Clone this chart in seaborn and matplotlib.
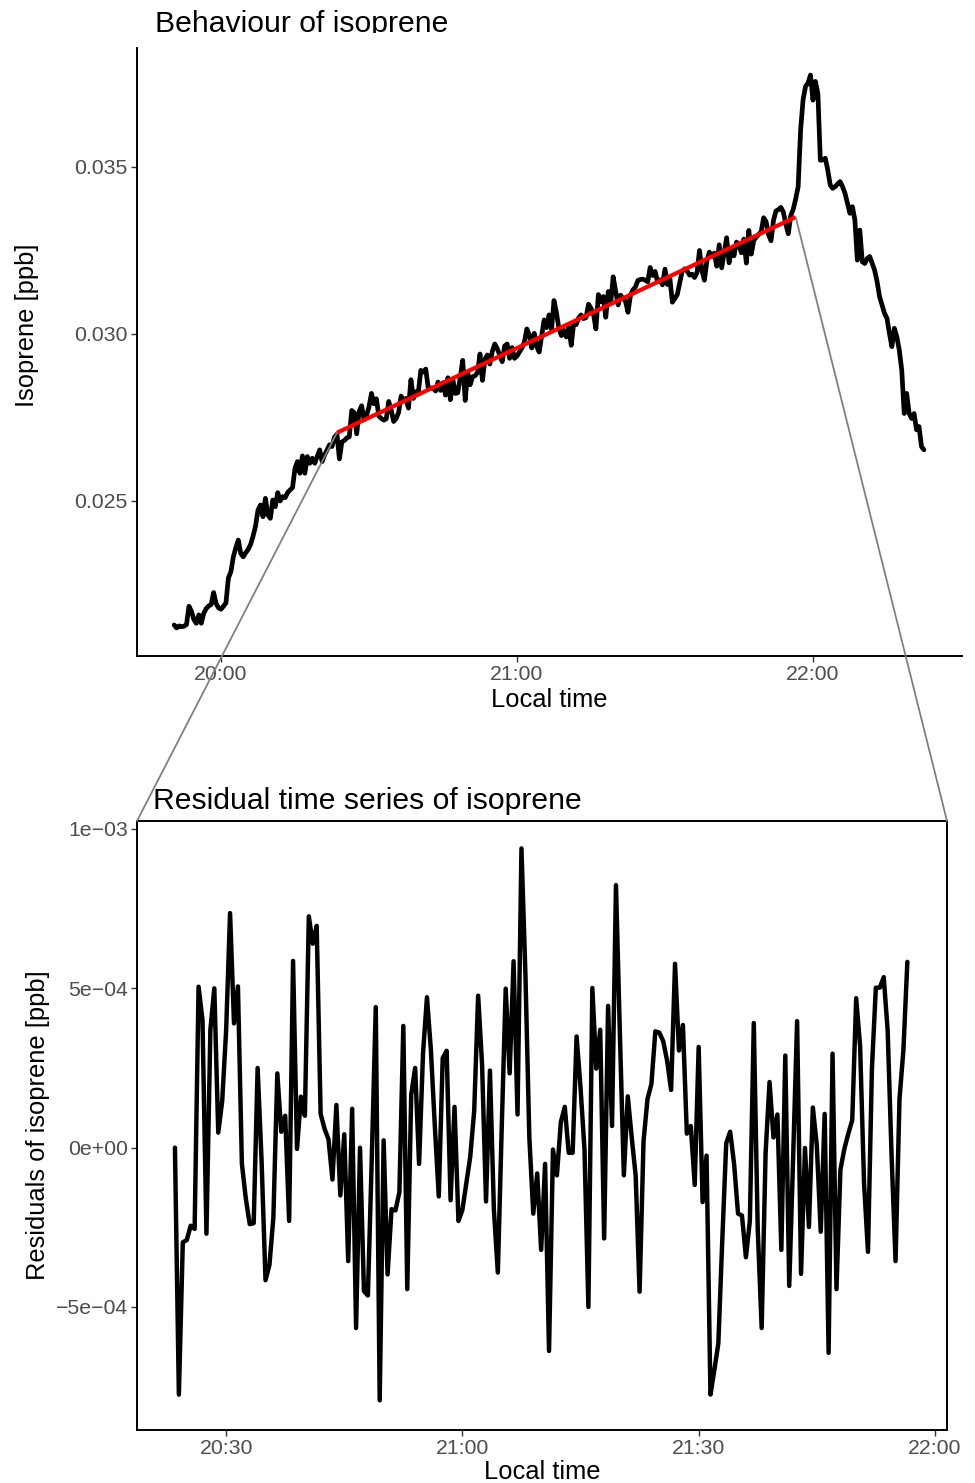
import numpy as np
import pandas as pd
import matplotlib
matplotlib.use("Agg")
import matplotlib.pyplot as plt
import matplotlib.dates as mdates
from matplotlib.patches import ConnectionPatch
from matplotlib.transforms import Bbox, TransformedBbox
import seaborn as sns

# ---------------- data ----------------
start_time = "2021-07-01 19:50:30"   # first sample, 30-second resolution
sample_step = "30s"

# isoprene [ppb] before the fitted window (19:50:30 - 20:23:00)
pre_ppb = [0.02129, 0.02120, 0.02126, 0.02124, 0.02125, 0.02130, 0.02185, 0.02170, 0.02145, 0.02134,
           0.02159, 0.02134, 0.02164, 0.02178, 0.02186, 0.02190, 0.02226, 0.02193, 0.02180, 0.02176,
           0.02185, 0.02195, 0.02270, 0.02288, 0.02333, 0.02360, 0.02383, 0.02343, 0.02333, 0.02345,
           0.02355, 0.02370, 0.02395, 0.02425, 0.02473, 0.02488, 0.02453, 0.02508, 0.02458, 0.02448,
           0.02503, 0.02483, 0.02525, 0.02500, 0.02513, 0.02510, 0.02525, 0.02533, 0.02540, 0.02598,
           0.02618, 0.02583, 0.02635, 0.02583, 0.02633, 0.02613, 0.02628, 0.02613, 0.02633, 0.02653,
           0.02618, 0.02638, 0.02653, 0.02668, 0.02663, 0.02691]

# isoprene [ppb] inside the fitted window (20:23:30 - 21:56:30)
window_ppb = [0.02700, 0.02626, 0.02677, 0.02681, 0.02689, 0.02692, 0.02771, 0.02764, 0.02701, 0.02768,
              0.02785, 0.02743, 0.02756, 0.02782, 0.02822, 0.02791, 0.02806, 0.02754, 0.02747, 0.02742,
              0.02746, 0.02798, 0.02772, 0.02738, 0.02747, 0.02765, 0.02814, 0.02799, 0.02807, 0.02778,
              0.02863, 0.02807, 0.02827, 0.02825, 0.02891, 0.02886, 0.02895, 0.02839, 0.02838, 0.02838,
              0.02829, 0.02856, 0.02831, 0.02854, 0.02817, 0.02869, 0.02803, 0.02863, 0.02822, 0.02824,
              0.02871, 0.02921, 0.02801, 0.02886, 0.02848, 0.02872, 0.02875, 0.02884, 0.02940, 0.02861,
              0.02925, 0.02937, 0.02910, 0.02948, 0.02970, 0.02956, 0.02936, 0.02917, 0.02964, 0.02970,
              0.02927, 0.02959, 0.02927, 0.02934, 0.02946, 0.02958, 0.02976, 0.03015, 0.02997, 0.02958,
              0.03002, 0.02962, 0.02946, 0.02995, 0.03042, 0.03019, 0.03057, 0.03013, 0.03100, 0.03064,
              0.03016, 0.02995, 0.03011, 0.02991, 0.03021, 0.02966, 0.03033, 0.03028, 0.03048, 0.03057,
              0.03046, 0.03049, 0.03089, 0.03077, 0.03061, 0.03015, 0.03118, 0.03096, 0.03112, 0.03050,
              0.03127, 0.03092, 0.03171, 0.03128, 0.03087, 0.03116, 0.03106, 0.03098, 0.03065, 0.03115,
              0.03132, 0.03140, 0.03160, 0.03163, 0.03164, 0.03161, 0.03156, 0.03199, 0.03175, 0.03187,
              0.03156, 0.03162, 0.03147, 0.03194, 0.03148, 0.03166, 0.03095, 0.03106, 0.03118, 0.03154,
              0.03188, 0.03195, 0.03188, 0.03176, 0.03179, 0.03169, 0.03184, 0.03250, 0.03189, 0.03161,
              0.03219, 0.03245, 0.03231, 0.03242, 0.03203, 0.03267, 0.03198, 0.03242, 0.03288, 0.03213,
              0.03256, 0.03234, 0.03275, 0.03267, 0.03243, 0.03284, 0.03212, 0.03310, 0.03239, 0.03280,
              0.03290, 0.03298, 0.03306, 0.03348, 0.03336, 0.03297, 0.03279, 0.03340, 0.03368, 0.03372,
              0.03379, 0.03365, 0.03329, 0.03300, 0.03354, 0.03373, 0.03404]

# isoprene [ppb] after the fitted window (21:57:00 - 22:22:30)
post_ppb = [0.03441, 0.03611, 0.03701, 0.03741, 0.03751, 0.03775, 0.03700, 0.03756, 0.03720, 0.03520,
            0.03521, 0.03526, 0.03491, 0.03446, 0.03436, 0.03441, 0.03449, 0.03456, 0.03441, 0.03421,
            0.03391, 0.03361, 0.03381, 0.03341, 0.03221, 0.03311, 0.03216, 0.03211, 0.03226, 0.03232,
            0.03211, 0.03191, 0.03157, 0.03112, 0.03087, 0.03062, 0.03047, 0.03002, 0.02962, 0.03017,
            0.02992, 0.02952, 0.02892, 0.02762, 0.02822, 0.02762, 0.02747, 0.02762, 0.02713, 0.02723,
            0.02663, 0.02653]

# residuals of the linear fit, in units of 1e-4 ppb (bottom panel)
resid_1e4_ppb = [0.0, -7.75, -2.97, -2.9, -2.45, -2.55, 5.05, 4.0, -2.7, 3.7,
                 5.0, 0.47, 1.46, 3.67, 7.36, 3.9, 5.06, -0.5, -1.6, -2.4,
                 -2.37, 2.5, -0.4, -4.16, -3.68, -2.19, 2.33, 0.5, 1.0, -2.3,
                 5.86, -0.04, 1.6, 1.0, 7.26, 6.4, 6.96, 1.06, 0.59, 0.26,
                 -1.0, 1.34, -1.5, 0.42, -3.56, 1.22, -5.66, 0.0, -4.5, -4.64,
                 -0.28, 4.41, -7.93, 0.23, -3.98, -1.93, -1.97, -1.4, 3.82, -4.44,
                 1.66, 2.5, -0.51, 2.95, 4.72, 3.07, 0.68, -1.53, 2.81, 3.04,
                 -1.65, 1.28, -2.3, -1.95, -1.11, -0.28, 1.16, 4.77, 2.6, -1.69,
                 2.42, -1.95, -3.92, 0.68, 4.99, 2.33, 5.85, 1.04, 9.39, 5.47,
                 0.32, -2.07, -0.81, -3.21, -0.51, -6.38, -0.06, -0.87, 0.8, 1.28,
                 -0.16, -0.16, 3.49, 1.88, -0.04, -5.0, 5.01, 2.48, 3.7, -2.85,
                 4.45, 0.68, 8.24, 3.55, -0.87, 1.61, 0.32, -0.87, -4.52, 0.2,
                 1.52, 2.0, 3.65, 3.61, 3.34, 2.72, 1.81, 5.77, 3.05, 3.85,
                 0.44, 0.68, -1.17, 3.16, -1.71, -0.25, -7.75, -6.97, -6.14, -2.9,
                 0.14, 0.5, -0.51, -2.07, -2.13, -3.44, -2.3, 3.91, -2.55, -5.66,
                 -0.16, 2.06, 0.32, 1.04, -3.21, 2.89, -4.34, -0.28, 3.97, -3.96,
                 -0.01, -2.49, 1.26, 0.08, -2.64, 1.06, -6.44, 2.95, -4.44, -0.69,
                 -0.04, 0.44, 0.86, 4.69, 3.19, -1.11, -3.27, 2.48, 5.02, 5.02,
                 5.35, 3.67, -0.28, -3.56, 1.52, 3.07, 5.83]

top_yticks = [0.025, 0.030, 0.035]
top_ytick_labels = ["0.025", "0.030", "0.035"]
bot_yticks = [-5e-4, 0.0, 5e-4, 1e-3]
bot_ytick_labels = ["\u22125e\u221204", "0e+00", "5e\u221204", "1e\u221203"]

title_top = "Behaviour of isoprene"
title_bot = "Residual time series of isoprene"
xlabel = "Local time"
ylabel_top = "Isoprene [ppb]"
ylabel_bot = "Residuals of isoprene [ppb]"

# ---------------- build frames ----------------
n_pre, n_win, n_post = len(pre_ppb), len(window_ppb), len(post_ppb)
times = pd.date_range(start_time, periods=n_pre + n_win + n_post, freq=sample_step)
iso = pre_ppb + window_ppb + post_ppb
df_top = pd.DataFrame({"time": times, "isoprene": iso})
win_times = times[n_pre:n_pre + n_win]
df_win = pd.DataFrame({"t": mdates.date2num(win_times), "isoprene": window_ppb})
df_res = pd.DataFrame({"time": win_times, "resid": np.array(resid_1e4_ppb) * 1e-4})

# ---------------- style ----------------
sns.set_theme(style="white")
plt.rcParams["font.family"] = ["Liberation Sans", "DejaVu Sans"]
plt.rcParams["axes.edgecolor"] = "black"

W, H = 975, 1483
fig = plt.figure(figsize=(W / 100, H / 100), dpi=100, facecolor="white")

def fx(px):
    return px / W

def fy(py):
    return 1 - py / H

ax1 = fig.add_axes([fx(137), fy(656), fx(962) - fx(137), fy(48) - fy(656)])
ax2 = fig.add_axes([fx(137), fy(1430), fx(947) - fx(137), fy(821) - fy(1430)])

# top panel
sns.lineplot(data=df_top, x="time", y="isoprene", color="black", lw=3.4,
             estimator=None, ax=ax1)
sns.regplot(data=df_win, x="t", y="isoprene", scatter=False, ci=None, truncate=True,
            line_kws=dict(color="#FF0000", lw=3.0, solid_capstyle="butt"), ax=ax1)

ax1.set_xlim(pd.Timestamp("2021-07-01 19:42:58"), pd.Timestamp("2021-07-01 22:30:13"))
ax1.set_ylim(0.02036, 0.03856)
ax1.xaxis.set_major_locator(mdates.HourLocator())
ax1.xaxis.set_major_formatter(mdates.DateFormatter("%H:%M"))
ax1.set_yticks(top_yticks)
ax1.set_yticklabels(top_ytick_labels)
for s in ["top", "right"]:
    ax1.spines[s].set_visible(False)
for s in ["left", "bottom"]:
    ax1.spines[s].set_linewidth(1.4)
    ax1.spines[s].set_color("black")

# bottom panel
sns.lineplot(data=df_res, x="time", y="resid", color="black", lw=3.2,
             estimator=None, ax=ax2)
ax2.set_xlim(pd.Timestamp("2021-07-01 20:18:41"), pd.Timestamp("2021-07-01 22:01:32"))
ax2.set_ylim(-8.86e-4, 1.025e-3)
ax2.xaxis.set_major_locator(mdates.MinuteLocator(byminute=[0, 30]))
ax2.xaxis.set_major_formatter(mdates.DateFormatter("%H:%M"))
ax2.set_yticks(bot_yticks)
ax2.set_yticklabels(bot_ytick_labels)
for s in ["top", "right", "left", "bottom"]:
    ax2.spines[s].set_visible(True)
    ax2.spines[s].set_linewidth(1.4)
    ax2.spines[s].set_color("black")

for ax in (ax1, ax2):
    ax.set_xlabel("")
    ax.set_ylabel("")
    ax.grid(False)
    ax.set_facecolor("white")
    ax.tick_params(axis="both", which="major", direction="out", length=4, width=1,
                   color="#333333", labelcolor="#4D4D4D", labelsize=15.3, pad=2.5,
                   bottom=True, left=True)

# titles and axis labels
t1 = fig.text(fx(155), fy(32), title_top, fontsize=21.7, color="black", ha="left", va="baseline")
t1.set_clip_box(TransformedBbox(Bbox([[0, fy(33)], [1, 1]]), fig.transFigure))
t1.set_clip_on(True)
fig.text(fx(153), fy(809), title_bot, fontsize=21.7, color="black", ha="left", va="baseline")
fig.text(fx(549.5), fy(707), xlabel, fontsize=18.4, color="black", ha="center", va="baseline")
fig.text(fx(542), fy(1479), xlabel, fontsize=18.4, color="black", ha="center", va="baseline")
fig.text(fx(27), fy(325), ylabel_top, fontsize=18.4, color="black", ha="center", va="center",
         rotation=90)
fig.text(fx(38), fy(1125), ylabel_bot, fontsize=18.4, color="black", ha="center", va="center",
         rotation=90)

# zoom connectors: ends of the fitted line -> top corners of residual panel
slope, intercept = np.polyfit(df_win["t"], df_win["isoprene"], 1)
t0, t1n = df_win["t"].iloc[0], df_win["t"].iloc[-1]
for tx, corner in ((t0, (0, 1)), (t1n, (1, 1))):
    con = ConnectionPatch(xyA=(tx, slope * tx + intercept), coordsA=ax1.transData,
                          xyB=corner, coordsB=ax2.transAxes,
                          color="#808080", lw=1.3, zorder=5)
    fig.add_artist(con)

fig.savefig("out.png", dpi=100, facecolor="white")
